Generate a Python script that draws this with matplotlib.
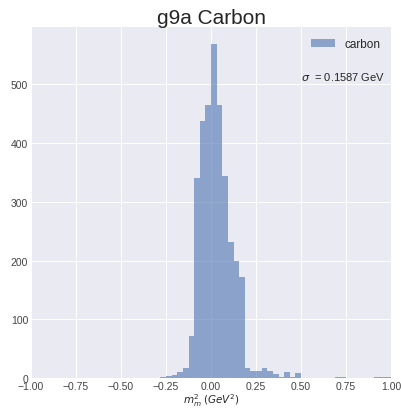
import numpy as np
import matplotlib
matplotlib.use("Agg")
from matplotlib import pyplot as plt

plt.style.use('seaborn-v0_8')
plt.rcParams['font.family'] = ['Liberation Sans', 'DejaVu Sans']

# histogram counts, 64 bins on [-1, 1]
bin_lo = [-0.71875, -0.5, -0.40625, -0.3125, -0.28125, -0.25, -0.21875,
          -0.1875, -0.15625, -0.125, -0.09375, -0.0625, -0.03125,
          0.0, 0.03125, 0.0625, 0.09375, 0.125, 0.15625, 0.1875, 0.21875,
          0.25, 0.28125, 0.3125, 0.34375, 0.375, 0.40625, 0.4375, 0.46875,
          0.5, 0.59375, 0.6875, 0.71875, 0.90625, 0.9375, 0.96875]
counts = [1, 1, 1, 1, 2, 4, 6,
          10, 17, 72, 340, 438, 464,
          568, 464, 343, 231, 200, 172, 18, 12,
          12, 18, 12, 8, 2, 10, 2, 9,
          1, 1, 2, 2, 2, 2, 2]
sigma = 0.1587

centers = np.array(bin_lo) + 0.03125 / 2

fig = plt.figure(figsize=(4.02, 4.10), dpi=100)
ax = fig.add_axes([0.077, 0.075, 0.896, 0.856])
ax.hist(centers, bins=64, range=(-1, 1), weights=counts,
        alpha=0.6, color='#4C72B0', label='carbon')
ax.set_xlim(-1, 1)
ax.grid(True, color='white', linewidth=0.7)
ax.set_title('g9a Carbon', fontsize=15, pad=3)
ax.set_xlabel(r'$m^2_{m}$ $(GeV^2)$', fontsize=7.5, labelpad=0)
ax.tick_params(labelsize=7.5, pad=2, colors='#444444')
ax.legend(loc='upper right', fontsize=8.5, frameon=False)
ax.text(0.75, 0.85, r'$\sigma$  = %.4f GeV' % sigma, transform=ax.transAxes, fontsize=8)

plt.savefig('out.png')
